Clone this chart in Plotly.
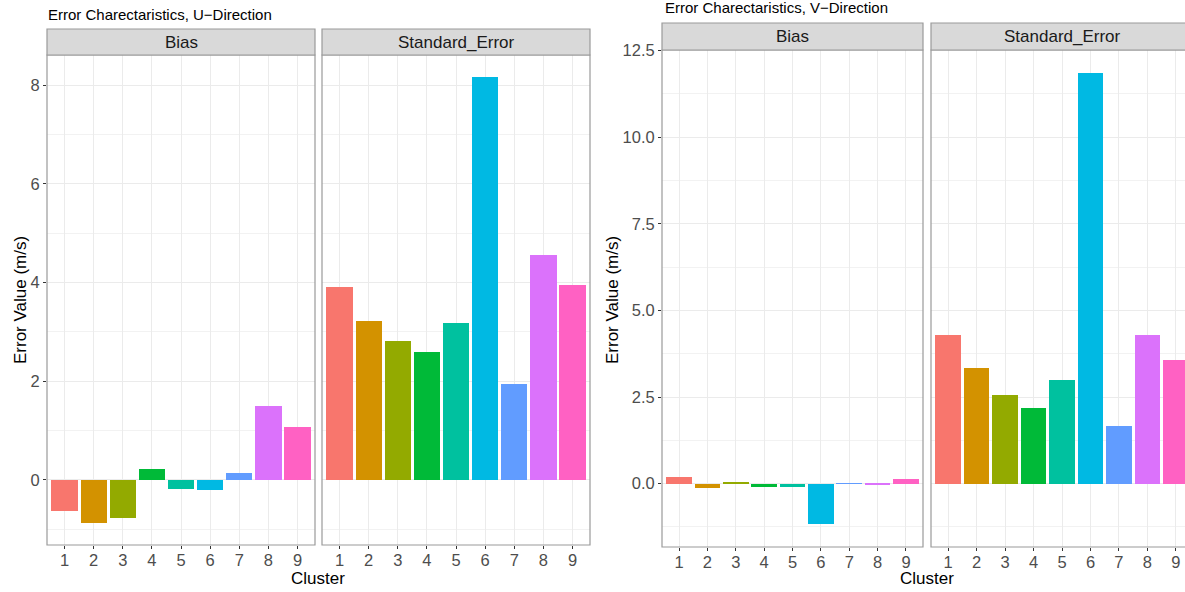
import plotly.graph_objects as go

clusters = [1, 2, 3, 4, 5, 6, 7, 8, 9]
tick_labels = ["1", "2", "3", "4", "5", "6", "7", "8", "9"]
colors = ["#F8766D", "#D39200", "#93AA00", "#00BA38", "#00C19F",
          "#00B9E3", "#619CFF", "#DB72FB", "#FF61C3"]

u_bias = [-0.63, -0.87, -0.77, 0.22, -0.18, -0.20, 0.14, 1.49, 1.07]
u_se = [3.90, 3.21, 2.81, 2.59, 3.17, 8.16, 1.94, 4.55, 3.94]
v_bias = [0.18, -0.14, 0.02, -0.11, -0.10, -1.18, 0.01, -0.02, 0.14]
v_se = [4.28, 3.33, 2.56, 2.18, 2.99, 11.85, 1.67, 4.28, 3.56]

W, H = 1185, 592
FONT = "Liberation Sans, Arial, Helvetica, sans-serif"
TICK_COL = "#4D4D4D"
BORDER = "#9A9A9A"


def px_x(p):
    return p / W


def px_y(p):
    return 1 - p / H


def yrange(a, b):
    lo = min(min(a), min(b), 0)
    hi = max(max(a), max(b), 0)
    r = hi - lo
    return [lo - 0.05 * r, hi + 0.05 * r]


fig = go.Figure()

panels = [
    (u_bias, "x", "y"),
    (u_se, "x2", "y2"),
    (v_bias, "x3", "y3"),
    (v_se, "x4", "y4"),
]
for vals, xa, ya in panels:
    fig.add_trace(go.Bar(x=clusters, y=vals, width=0.9,
                         marker=dict(color=colors, line=dict(width=0)),
                         xaxis=xa, yaxis=ya, showlegend=False))

# panel geometry in pixels (left, right, top, bottom)
geo = {
    1: (47, 315, 55, 545),
    2: (322, 590, 55, 545),
    3: (662, 923, 50, 547),
    4: (931, 1193, 50, 547),
}
strip_h = {1: 26, 2: 26, 3: 27, 4: 27}

ur = yrange(u_bias, u_se)
vr = yrange(v_bias, v_se)
vr[1] = max(vr[1], 12.52)

common_x = dict(tickvals=clusters, ticktext=tick_labels, showgrid=True,
                gridcolor="#EBEBEB", gridwidth=1.1, zeroline=False,
                ticks="outside", ticklen=3, tickcolor="#333333",
                ticklabelstandoff=-3,
                tickfont=dict(family=FONT, size=16.5, color=TICK_COL),
                showline=False, fixedrange=True, automargin=False)
common_y = dict(showgrid=True, gridcolor="#EBEBEB", gridwidth=1.1,
                zeroline=False, ticks="outside", ticklen=3,
                tickcolor="#333333",
                tickfont=dict(family=FONT, size=16.5, color=TICK_COL),
                showline=False, fixedrange=True, automargin=False)

layout = {}
for i in range(1, 5):
    l, r, t, b = geo[i]
    xd1 = min(px_x(r), 1.0)
    xrng = [0.4, 9.6]
    if px_x(r) > 1.0:
        xrng = [0.4, 0.4 + (W - l) / ((r - l) / 9.2)]
    xk = "xaxis" if i == 1 else f"xaxis{i}"
    yk = "yaxis" if i == 1 else f"yaxis{i}"
    ysuffix = "" if i == 1 else str(i)
    layout[xk] = dict(common_x, domain=[px_x(l), xd1], range=xrng,
                      anchor="y" + ysuffix)
    if i in (1, 2):
        ycfg = dict(common_y, range=ur, tickvals=[0, 2, 4, 6, 8],
                    ticktext=["0", "2", "4", "6", "8"],
                    minor=dict(showgrid=True, tickvals=[-1, 1, 3, 5, 7],
                               gridcolor="#F2F2F2", gridwidth=0.6))
    else:
        ycfg = dict(common_y, range=vr,
                    tickvals=[0, 2.5, 5, 7.5, 10, 12.5],
                    ticktext=["0.0", "2.5", "5.0", "7.5", "10.0", "12.5"],
                    minor=dict(showgrid=True,
                               tickvals=[-1.25, 1.25, 3.75, 6.25, 8.75, 11.25],
                               gridcolor="#F2F2F2", gridwidth=0.6))
    ycfg.update(domain=[px_y(b), px_y(t)], anchor="x" + ysuffix)
    if i in (2, 4):
        ycfg.update(showticklabels=False, ticks="")
    layout[yk] = ycfg

shapes = []
annotations = []
strip_names = {1: "Bias", 2: "Standard_Error", 3: "Bias", 4: "Standard_Error"}
for i in range(1, 5):
    l, r, t, b = geo[i]
    sh = strip_h[i]
    shapes.append(dict(type="rect", xref="paper", yref="paper",
                       x0=px_x(l), x1=px_x(r), y0=px_y(b), y1=px_y(t),
                       line=dict(color=BORDER, width=1.2),
                       fillcolor="rgba(0,0,0,0)", layer="above"))
    shapes.append(dict(type="rect", xref="paper", yref="paper",
                       x0=px_x(l), x1=px_x(r), y0=px_y(t), y1=px_y(t - sh),
                       line=dict(color=BORDER, width=1.2),
                       fillcolor="#D9D9D9", layer="above"))
    cx = (l + r) / 2
    annotations.append(dict(text=strip_names[i], xref="paper", yref="paper",
                            x=px_x(cx), y=px_y(t - sh / 2), showarrow=False,
                            xanchor="center", yanchor="middle",
                            font=dict(family=FONT, size=17, color="#1A1A1A")))

annotations.append(dict(text="Error Charectaristics, U\u2212Direction",
                        xref="paper", yref="paper", x=px_x(46), y=px_y(14),
                        xanchor="left", yanchor="middle", showarrow=False,
                        font=dict(family=FONT, size=15, color="black")))
annotations.append(dict(text="Error Charectaristics, V\u2212Direction",
                        xref="paper", yref="paper", x=px_x(663), y=px_y(8),
                        xanchor="left", yanchor="middle", showarrow=False,
                        font=dict(family=FONT, size=15, color="black")))
for xc, yc in [(20, 300), (612, 300)]:
    annotations.append(dict(text="Error Value (m/s)", xref="paper", yref="paper",
                            x=px_x(xc), y=px_y(yc), textangle=-90,
                            xanchor="center", yanchor="middle", showarrow=False,
                            font=dict(family=FONT, size=17, color="black")))
for xc in [318, 927]:
    annotations.append(dict(text="Cluster", xref="paper", yref="paper",
                            x=px_x(xc), y=px_y(578), xanchor="center",
                            yanchor="middle", showarrow=False,
                            font=dict(family=FONT, size=17, color="black")))

fig.update_layout(width=W, height=H, margin=dict(l=0, r=0, t=0, b=0, autoexpand=False),
                  paper_bgcolor="white", plot_bgcolor="white",
                  shapes=shapes, annotations=annotations, bargap=0,
                  **layout)

fig.write_html("out.html")
